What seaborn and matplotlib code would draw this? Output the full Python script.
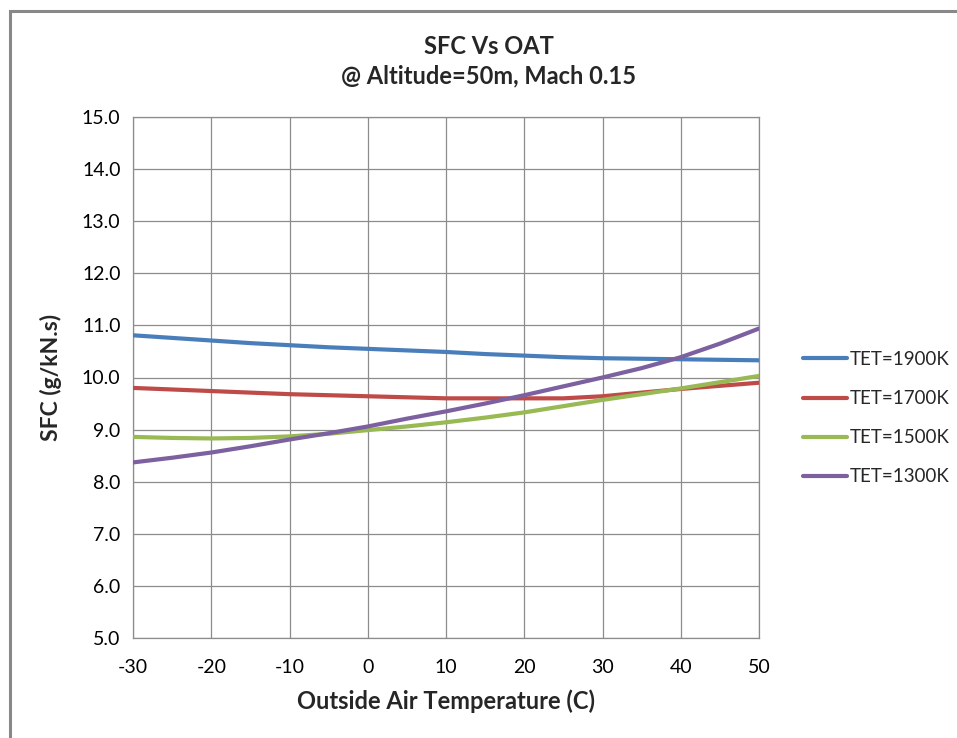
import matplotlib
matplotlib.use("Agg")
import matplotlib.pyplot as plt
import seaborn as sns
import pandas as pd
from matplotlib.patches import Rectangle

# Outside air temperature (C)
oat = [-30, -25, -20, -15, -10, -5, 0, 5, 10, 15, 20, 25, 30, 35, 40, 45, 50]

# Specific fuel consumption (g/kN.s) per turbine entry temperature
sfc_1900 = [10.81, 10.76, 10.71, 10.66, 10.62, 10.58, 10.55, 10.52, 10.49,
            10.45, 10.42, 10.39, 10.37, 10.36, 10.35, 10.34, 10.33]
sfc_1700 = [9.80, 9.77, 9.74, 9.71, 9.68, 9.66, 9.64, 9.62, 9.60,
            9.60, 9.60, 9.60, 9.64, 9.71, 9.78, 9.84, 9.90]
sfc_1500 = [8.86, 8.84, 8.83, 8.84, 8.87, 8.92, 8.99, 9.06, 9.14,
            9.23, 9.33, 9.45, 9.57, 9.68, 9.79, 9.91, 10.03]
sfc_1300 = [8.37, 8.46, 8.56, 8.68, 8.81, 8.93, 9.06, 9.21, 9.35,
            9.50, 9.66, 9.83, 10.00, 10.18, 10.39, 10.65, 10.94]

series_names = ["TET=1900K", "TET=1700K", "TET=1500K", "TET=1300K"]
series_values = [sfc_1900, sfc_1700, sfc_1500, sfc_1300]
colors = ["#4A7EBB", "#BE4B48", "#98B954", "#7D60A0"]

x_ticks = [-30, -20, -10, 0, 10, 20, 30, 40, 50]
y_ticks = [5.0, 6.0, 7.0, 8.0, 9.0, 10.0, 11.0, 12.0, 13.0, 14.0, 15.0]

df = pd.concat(
    [pd.DataFrame({"OAT": oat, "SFC": vals, "Series": name})
     for name, vals in zip(series_names, series_values)],
    ignore_index=True,
)

sns.set_theme(style="white")
plt.rcParams["font.family"] = ["Lato", "DejaVu Sans"]

W, H = 957, 738
fig = plt.figure(figsize=(W / 100, H / 100), dpi=100)
fig.patch.set_facecolor("white")

# chart-area border
fig.patches.append(Rectangle((10 / W, -0.05), 1.2, 1 - 11 / H + 0.05,
                             transform=fig.transFigure, fill=False,
                             edgecolor="#888888", linewidth=2.2, zorder=0))

ax = fig.add_axes([133 / W, 1 - 638 / H, (759 - 133) / W, (638 - 117) / H])

sns.lineplot(data=df, x="OAT", y="SFC", hue="Series", hue_order=series_names,
             palette=colors, linewidth=3.0, ax=ax, legend=False, zorder=3)

grid_c = "#8C8C8C"
ax.set_xlim(-30, 50)
ax.set_ylim(5, 15)
ax.set_xticks(x_ticks)
ax.set_yticks(y_ticks)
ax.set_xticklabels([str(t) for t in x_ticks])
ax.set_yticklabels([f"{t:.1f}" for t in y_ticks])
ax.grid(True, color=grid_c, linewidth=0.9)
for s in ax.spines.values():
    s.set_color(grid_c)
    s.set_linewidth(0.9)
ax.tick_params(axis="both", which="major", direction="out", length=5,
               width=0.9, color=grid_c, labelsize=14, labelcolor="#000000",
               pad=4)
ax.tick_params(axis="x", pad=10)

ax.set_xlabel("Outside Air Temperature (C)", fontsize=17, fontweight="bold",
              labelpad=10)
ax.set_ylabel("SFC (g/kN.s)", fontsize=16.5, fontweight="bold", labelpad=14)

fig.text(489 / W, 1 - 46 / H, "SFC Vs OAT", ha="center", va="center",
         fontsize=17, fontweight="bold")
fig.text(489 / W, 1 - 76 / H, "@ Altitude=50m, Mach 0.15", ha="center",
         va="center", fontsize=17, fontweight="bold")

handles = [plt.Line2D([], [], color=c, linewidth=3.0) for c in colors]
fig.legend(handles, series_names, loc="upper left",
           bbox_to_anchor=(803 / W, 1 - 351 / H), frameon=False,
           fontsize=13.5, handlelength=2.35, handletextpad=0.12,
           labelspacing=1.18, borderpad=0, borderaxespad=0)

fig.savefig("out.png", dpi=100)
